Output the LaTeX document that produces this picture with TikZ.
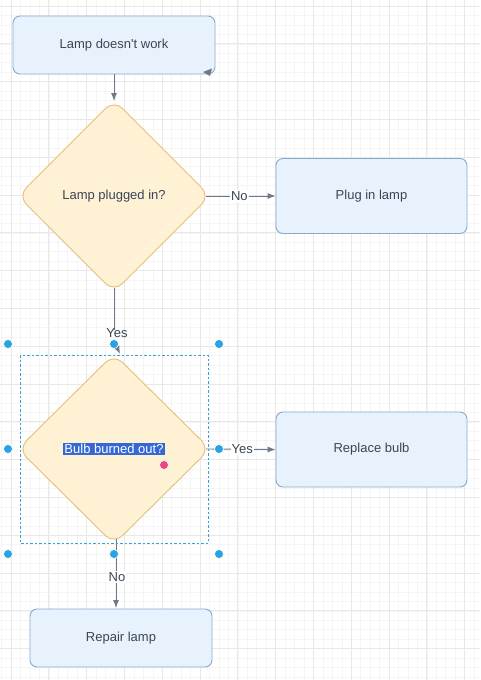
\documentclass[tikz,border=0pt]{standalone}
\usepackage{fontspec}
\setmainfont{Liberation Sans}
\usetikzlibrary{arrows.meta,calc}
\definecolor{boxfill}{HTML}{E8F2FD}
\definecolor{boxline}{HTML}{86A9D0}
\definecolor{dfill}{HTML}{FEF1D4}
\definecolor{dline}{HTML}{E6C07A}
\definecolor{txt}{HTML}{3A4556}
\definecolor{edgec}{HTML}{6E7886}
\definecolor{handle}{HTML}{2AA3E6}
\definecolor{selc}{HTML}{3A9FD2}
\definecolor{hil}{HTML}{3568D4}
\definecolor{pinkc}{HTML}{E84A7E}
\definecolor{gminor}{HTML}{F5F5F5}
\definecolor{gmajor}{HTML}{E8E8E8}
\tikzset{
  procbox/.style={draw=boxline, fill=boxfill, rounded corners=7pt, line width=0.9pt,
    text=txt, font=\fontsize{13}{15}\selectfont, inner sep=0pt},
  edge/.style={draw=edgec, line width=0.9pt, -{Latex[length=8pt,width=6pt]}},
  elabel/.style={fill=white, text=txt, font=\fontsize{13}{15}\selectfont, inner sep=1pt},
  hdot/.style={circle, fill=handle, draw=white, line width=0.6pt, minimum size=9pt, inner sep=0pt},
  dtext/.style={text=txt, font=\fontsize{13}{15}\selectfont},
  decis/.style={fill=dfill, draw=dline, line width=0.9pt, rounded corners=12pt},
}
\begin{document}
\begin{tikzpicture}[x=1pt,y=-1pt]
\useasboundingbox (0,0) rectangle (480,680);
\fill[white] (0,0) rectangle (480,680);
% grid
\foreach \i in {0,...,51} {
  \draw[gminor, line width=0.5pt] (1.55+\i*9.45,0) -- (1.55+\i*9.45,680);
}
\foreach \i in {0,...,72} {
  \draw[gminor, line width=0.5pt] (0,6+\i*9.45) -- (480,6+\i*9.45);
}
\foreach \i in {0,...,12} {
  \draw[gmajor, line width=0.7pt] (11+\i*37.8,0) -- (11+\i*37.8,680);
}
\foreach \i in {0,...,18} {
  \draw[gmajor, line width=0.7pt] (0,6+\i*37.8) -- (480,6+\i*37.8);
}
% boxes
\node[procbox, minimum width=202pt, minimum height=58pt] (b1) at (114,45) {Lamp doesn\textquotesingle t work};
\node[procbox, minimum width=191pt, minimum height=75pt] (b2) at (371.5,196) {Plug in lamp};
\node[procbox, minimum width=191pt, minimum height=75pt] (b3) at (371.5,449.5) {Replace bulb};
\node[procbox, minimum width=182pt, minimum height=58pt] (b4) at (121,638) {Repair lamp};
% diamonds
\coordinate (d1) at (114,196);
\coordinate (d2) at (114,449);
\draw[decis] (114,100) -- (210,196) -- (114,292) -- (18,196) -- cycle;
\draw[decis] (114,354) -- (210,449) -- (114,544) -- (18,449) -- cycle;
\coordinate (d1s) at (114,288);
\coordinate (d1e) at (206,196);
\coordinate (d2s) at (116,539);
\coordinate (d2e) at (206,449);
\node[dtext] (t1) at (d1) {Lamp plugged in?};
\node[fill=hil, text=white, font=\fontsize{13}{15}\selectfont, inner sep=1.5pt] (t2) at (d2) {Bulb burned out?};
% connectors
\draw[edge] (b1.south) -- (114,101);
\draw[edge] (d1e) -- (b2.west) node[elabel, pos=0.48] (l1) {No};
\draw[edge] (d2e) -- (b3.west) node[elabel, pos=0.52] (l3) {Yes};
\draw[edge] (d2s) -- (116,608);
\node[elabel] (l4) at (117,577) {No};
\draw[draw=edgec, line width=0.9pt] (d1s) -- (114,330);
\coordinate (ya) at (115,343);
\coordinate (yb) at (120,354);
\draw[edge] (ya) -- (yb);
\node[elabel, fill=none] (l2) at (117,333) {Yes};
% stray arrow tip at box corner
\fill[edgec] (203,72) -- (212,68.5) -- (210,76) -- cycle;
% selection
\draw[selc, dash pattern=on 2.5pt off 2pt, line width=0.7pt] (20,355) rectangle (208,543);
\foreach \p/\n in {{(8,344)}/h1,{(114,344)}/h2,{(219,344)}/h3,{(8,449)}/h4,{(219,449)}/h5,{(8,554)}/h6,{(114,554)}/h7,{(219,554)}/h8}
  \node[hdot] (\n) at \p {};
\node[circle, fill=pinkc, draw=white, line width=0.6pt, minimum size=9pt, inner sep=0pt] (pk) at (164,465) {};
\end{tikzpicture}
\end{document}
